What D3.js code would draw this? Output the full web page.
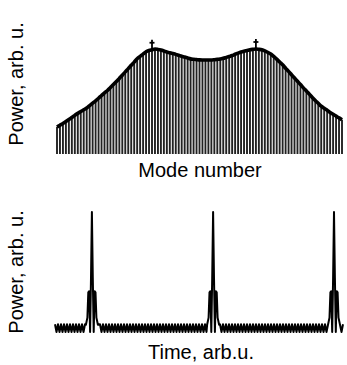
<!DOCTYPE html>
<html>
<head>
<meta charset="utf-8">
<script src="https://cdn.jsdelivr.net/npm/d3@7"></script>
<style>
  html, body { margin: 0; padding: 0; background: #fff; }
  svg { display: block; }
</style>
</head>
<body>
<div id="chart"></div>
<script>
// spectrum: relative power of each longitudinal mode
const modePower = [
  0.257, 0.274, 0.291, 0.309, 0.328, 0.348, 0.368, 0.387, 0.404, 0.421,
  0.438, 0.461, 0.484, 0.507, 0.531, 0.557, 0.583, 0.605, 0.633, 0.661,
  0.690, 0.720, 0.750, 0.782, 0.813, 0.845, 0.875, 0.907, 0.930, 0.951,
  0.974, 0.986, 0.993, 1.000, 0.996, 0.990, 0.981, 0.971, 0.965, 0.957,
  0.949, 0.940, 0.931, 0.923, 0.914, 0.906, 0.902, 0.899, 0.896, 0.895,
  0.895, 0.895, 0.895, 0.898, 0.901, 0.904, 0.911, 0.920, 0.929, 0.938,
  0.950, 0.961, 0.971, 0.979, 0.986, 0.993, 0.997, 1.000, 0.997, 0.992,
  0.982, 0.968, 0.953, 0.929, 0.903, 0.876, 0.849, 0.817, 0.787, 0.755,
  0.724, 0.693, 0.662, 0.630, 0.601, 0.570, 0.539, 0.510, 0.483, 0.455,
  0.435, 0.416, 0.396, 0.378, 0.361, 0.344, 0.326
];
const markedModes = [32, 67];

// pulse train in time domain
const pulseTimes = [12.3, 52.7, 93.0];
const pulseOffsets = [-2.0, -1.5, -1.2, -0.9, -0.6, -0.3, 0, 0.3, 0.6, 0.9, 1.2, 1.5, 2.0];
const pulseValues  = [0.06, 0.12, 0.33, 0.34, 0.0, 0.45, 1.0, 0.45, 0.0, 0.34, 0.33, 0.12, 0.06];
const floorRipple = [0.065, 0.0];
const timeSpan = [0, 96];

const width = 347, height = 365;
const font = '"Liberation Sans", Arial, sans-serif';

const svg = d3.select('#chart').append('svg')
  .attr('width', width)
  .attr('height', height)
  .attr('font-family', font);

// ---- top: mode spectrum ----
const xm = d3.scaleLinear().domain([0, modePower.length - 1]).range([57, 342]);
const ym = d3.scaleLinear().domain([0, 1]).range([154, 49]);

const spectrum = svg.append('g');

spectrum.append('g')
  .selectAll('line')
  .data(modePower)
  .join('line')
  .attr('x1', (d, i) => xm(i))
  .attr('x2', (d, i) => xm(i))
  .attr('y1', ym(0))
  .attr('y2', d => ym(d))
  .attr('stroke', '#222')
  .attr('stroke-width', 1.9);

spectrum.append('path')
  .datum(modePower)
  .attr('fill', 'none')
  .attr('stroke', '#000')
  .attr('stroke-width', 3.6)
  .attr('stroke-linejoin', 'round')
  .attr('d', d3.line()
    .x((d, i) => xm(i))
    .y(d => ym(d))
    .curve(d3.curveMonotoneX));

const marks = spectrum.append('g')
  .selectAll('g')
  .data(markedModes)
  .join('g')
  .attr('stroke', '#000')
  .attr('stroke-width', 1.8);
marks.append('line')
  .attr('x1', i => xm(i)).attr('x2', i => xm(i))
  .attr('y1', i => ym(modePower[i])).attr('y2', i => ym(modePower[i]) - 10);
marks.append('line')
  .attr('x1', i => xm(i) - 2.5).attr('x2', i => xm(i) + 2.5)
  .attr('y1', i => ym(modePower[i]) - 7).attr('y2', i => ym(modePower[i]) - 7);

// ---- bottom: pulse train ----
const xt = d3.scaleLinear().domain(timeSpan).range([55, 343]);
const yt = d3.scaleLinear().domain([0, 1]).range([332, 212]);

const trace = [];
for (let k = 0; timeSpan[0] + k * 0.5 <= timeSpan[1]; k++) {
  const t = timeSpan[0] + k * 0.5;
  if (pulseTimes.some(p => Math.abs(t - p) < 2.2)) continue;
  trace.push([t, floorRipple[k % 2]]);
}
pulseTimes.forEach(p => {
  pulseOffsets.forEach((o, j) => trace.push([p + o, pulseValues[j]]));
});
trace.sort((a, b) => a[0] - b[0]);

svg.append('path')
  .datum(trace)
  .attr('fill', 'none')
  .attr('stroke', '#000')
  .attr('stroke-width', 2)
  .attr('stroke-linejoin', 'round')
  .attr('d', d3.line()
    .x(d => xt(d[0]))
    .y(d => yt(d[1])));

// ---- labels ----
const labels = [
  { text: 'Power, arb. u.', x: 23, y: 84, rotate: true },
  { text: 'Mode number', x: 200, y: 177 },
  { text: 'Power, arb. u.', x: 23, y: 272, rotate: true },
  { text: 'Time, arb.u.', x: 201, y: 359 }
];
svg.append('g')
  .selectAll('text')
  .data(labels)
  .join('text')
  .attr('transform', d => `translate(${d.x},${d.y})` + (d.rotate ? ' rotate(-90)' : ''))
  .attr('text-anchor', 'middle')
  .attr('font-size', 20)
  .attr('fill', '#000')
  .text(d => d.text);
</script>
</body>
</html>
